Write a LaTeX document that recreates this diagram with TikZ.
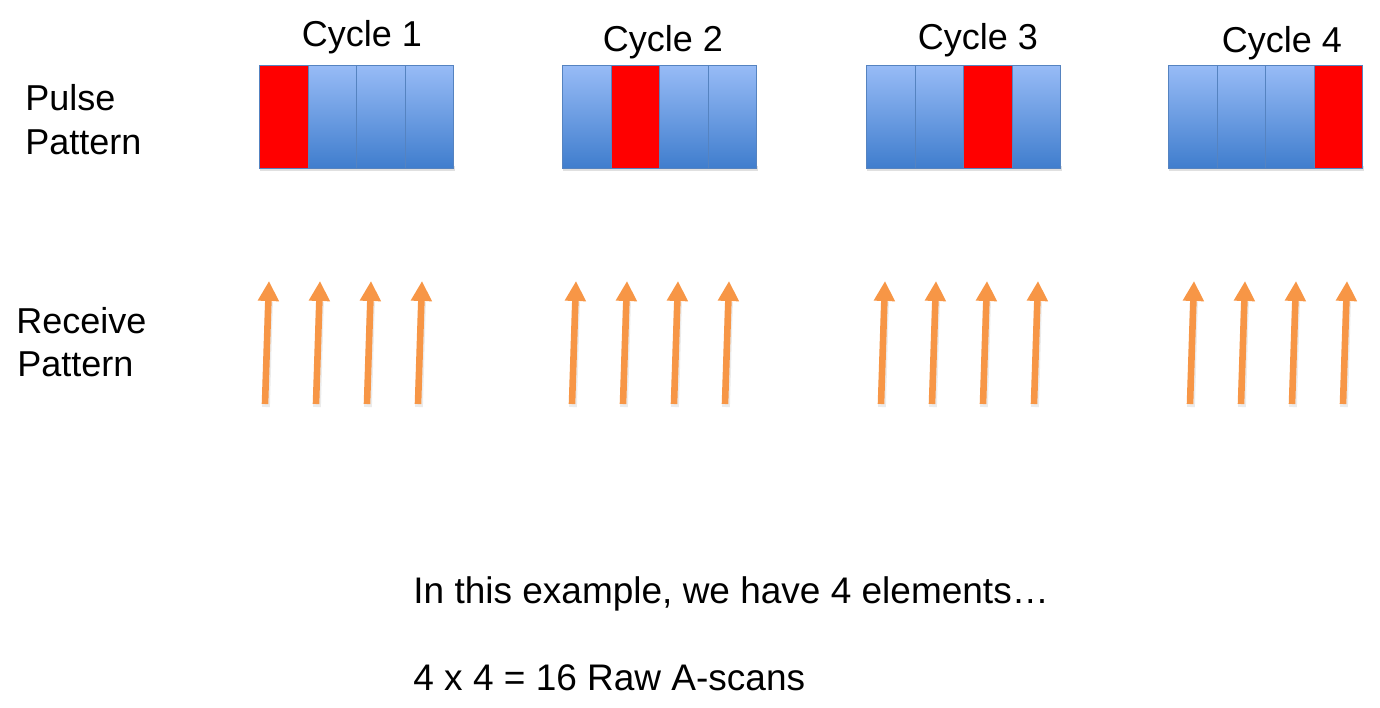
\documentclass[tikz,border=0pt]{standalone}
\usepackage{fontspec}
\setmainfont{Liberation Sans}
\usetikzlibrary{arrows.meta}
\definecolor{celltop}{HTML}{97BBF6}
\definecolor{cellbot}{HTML}{3F7DCD}
\definecolor{celledge}{HTML}{5583C0}
\definecolor{pulsered}{HTML}{FF0000}
\definecolor{rxorange}{HTML}{F79646}
\tikzset{
  lbl/.style={font=\fontsize{18}{21}\selectfont, inner sep=0pt, anchor=base west},
  cyc/.style={font=\fontsize{18}{21}\selectfont, inner sep=0pt, anchor=base},
  note/.style={font=\fontsize{18.5}{22}\selectfont, inner sep=0pt, anchor=base west},
  cell/.style={draw=celledge, line width=0.7pt, top color=celltop, bottom color=cellbot,
    minimum width=24.25pt, minimum height=51.5pt, inner sep=0pt, anchor=north west},
  hot/.style={draw=celledge, line width=0.7pt, fill=pulsered,
    minimum width=24.25pt, minimum height=51.5pt, inner sep=0pt, anchor=north west},
  blockshadow/.style={draw=none, fill=black, opacity=0.12},
  rx/.style={draw=rxorange, line width=3.3pt, -{Triangle[width=10pt,length=10pt]}},
  rxshadow/.style={draw=black, opacity=0.08, line width=3.9pt}
}
\begin{document}
\begin{tikzpicture}[x=0.5pt,y=-0.5pt]
\useasboundingbox (0,0) rectangle (1380,707);
% left labels
\node[lbl] (pl1) at (25,110) {Pulse};
\node[lbl] (pl2) at (25,154) {Pattern};
\node[lbl] (rl1) at (16,333) {Receive};
\node[lbl] (rl2) at (17,376) {Pattern};
% cycle labels
\node[cyc] (cy1) at (362,46) {Cycle 1};
\node[cyc] (cy2) at (663,51) {Cycle 2};
\node[cyc] (cy3) at (978,49) {Cycle 3};
\node[cyc] (cy4) at (1282,52) {Cycle 4};
% pulse blocks
\foreach \b/\xl/\r in {1/259/0, 2/562/1, 3/866/2, 4/1168/3}{
  \fill[blockshadow] (\xl+1,166) rectangle (\xl+196,171);
  \foreach \i in {0,1,2,3}{
    \ifnum\i=\r
      \node[hot] (c\b-\i) at (\xl+\i*48.5,65) {};
    \else
      \node[cell] (c\b-\i) at (\xl+\i*48.5,65) {};
    \fi
  }
}
% receive arrows
\foreach \g/\t in {1/265, 2/572, 3/881, 4/1190}{
  \foreach \i in {0,1,2,3}{
    \coordinate (t\g-\i) at (\t+\i*51,404);
    \coordinate (h\g-\i) at (\t+\i*51+4,281);
    \coordinate (s\g-\i) at (\t+\i*51+1,407);
    \coordinate (m\g-\i) at (\t+\i*51+4,302);
    \draw[rxshadow] (s\g-\i) -- (m\g-\i);
    \draw[rx] (t\g-\i) -- (h\g-\i);
  }
}
% notes
\node[note] (n1) at (413,603) {In this example, we have 4 elements…};
\node[note] (n2) at (413,690) {4 x 4 = 16 Raw A-scans};
\end{tikzpicture}
\end{document}
